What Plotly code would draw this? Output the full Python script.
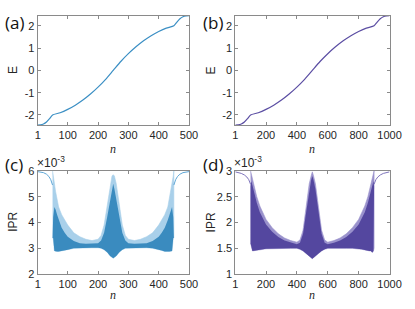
import plotly.graph_objects as go

# ---------------- data ----------------
# (a) energy spectrum, N = 500
a_n = [1, 10, 20, 30, 40, 50, 75, 100, 125, 150, 175, 200, 225, 250,
       275, 300, 325, 350, 375, 400, 425, 450, 460, 470, 480, 490, 500]
a_E = [-2.46, -2.45, -2.41, -2.32, -2.17, -2.00, -1.90, -1.75, -1.56, -1.33, -1.06, -0.75, -0.40, 0.00,
       0.40, 0.75, 1.06, 1.33, 1.56, 1.75, 1.90, 2.00, 2.17, 2.32, 2.41, 2.45, 2.46]
# (b) energy spectrum, N = 1000
b_n = [1, 20, 40, 60, 80, 100, 150, 200, 250, 300, 350, 400, 450, 500,
       550, 600, 650, 700, 750, 800, 850, 900, 920, 940, 960, 980, 1000]
b_E = [-2.46, -2.45, -2.41, -2.32, -2.17, -2.00, -1.90, -1.75, -1.56, -1.33, -1.06, -0.75, -0.40, 0.00,
       0.40, 0.75, 1.06, 1.33, 1.56, 1.75, 1.90, 2.00, 2.17, 2.32, 2.41, 2.45, 2.46]

# (c) IPR (x 1e-3), N = 500 : edge states and the envelope of the dense band
c_edge_l_n = [1, 10, 20, 30, 38, 44, 48, 50]
c_edge_l_v = [5.97, 5.96, 5.93, 5.87, 5.78, 5.66, 5.55, 5.45]
c_edge_r_n = [450, 452, 456, 462, 470, 480, 490, 500]
c_edge_r_v = [5.45, 5.55, 5.66, 5.78, 5.87, 5.93, 5.96, 5.97]
c_n = [50, 52, 56, 60, 65, 70, 80, 90, 100, 120, 140, 160, 180, 200, 210, 220, 230, 240, 246, 250,
       254, 260, 270, 280, 290, 300, 320, 340, 360, 380, 400, 410, 420, 430, 435, 440, 444, 448, 450]
c_up = [6.0, 5.8, 5.5, 5.2, 4.9, 4.6, 4.3, 4.1, 3.9, 3.6, 3.45, 3.35, 3.3, 3.35, 3.5, 3.9, 4.7, 5.5, 5.8, 5.85,
        5.8, 5.5, 4.7, 3.9, 3.5, 3.35, 3.3, 3.35, 3.45, 3.6, 3.9, 4.1, 4.3, 4.6, 4.9, 5.2, 5.5, 5.8, 6.0]
c_core = [3.4, 4.2, 4.6, 4.5, 4.3, 4.1, 3.8, 3.6, 3.45, 3.28, 3.2, 3.18, 3.18, 3.2, 3.3, 3.6, 4.2, 4.9, 5.3, 5.5,
          5.3, 4.9, 4.2, 3.6, 3.3, 3.2, 3.18, 3.18, 3.2, 3.28, 3.45, 3.6, 3.8, 4.1, 4.3, 4.5, 4.6, 4.2, 3.4]
c_lo = [3.4, 3.4, 2.9, 2.88, 2.88, 2.88, 2.88, 2.92, 2.95, 3.0, 3.02, 3.02, 3.02, 3.02, 3.0, 2.95, 2.85, 2.7, 2.65, 2.62,
        2.65, 2.7, 2.85, 2.95, 3.0, 3.02, 3.02, 3.02, 3.02, 3.0, 2.95, 2.92, 2.88, 2.88, 2.88, 2.88, 2.9, 3.4, 3.4]

# (d) IPR (x 1e-3), N = 1000
d_edge_l_n = [1, 20, 40, 60, 76, 88, 96, 100]
d_edge_l_v = [2.98, 2.97, 2.95, 2.92, 2.88, 2.83, 2.78, 2.74]
d_edge_r_n = [900, 904, 912, 924, 940, 960, 980, 1000]
d_edge_r_v = [2.74, 2.78, 2.83, 2.88, 2.92, 2.95, 2.97, 2.98]
d_n = [100, 104, 112, 120, 130, 140, 160, 180, 200, 240, 280, 320, 360, 400, 420, 440, 460, 480, 492, 500,
       508, 520, 540, 560, 580, 600, 640, 680, 720, 760, 800, 820, 840, 860, 870, 880, 888, 896, 900]
d_up = [3.0, 2.95, 2.85, 2.75, 2.62, 2.5, 2.32, 2.18, 2.06, 1.9, 1.78, 1.7, 1.65, 1.62, 1.66, 1.85, 2.3, 2.75, 2.9, 2.98,
        2.9, 2.75, 2.3, 1.85, 1.66, 1.62, 1.65, 1.7, 1.78, 1.9, 2.06, 2.18, 2.32, 2.5, 2.62, 2.75, 2.85, 2.95, 3.0]
d_core = [2.7, 2.8, 2.72, 2.62, 2.5, 2.38, 2.2, 2.07, 1.96, 1.82, 1.72, 1.65, 1.61, 1.58, 1.61, 1.78, 2.2, 2.65, 2.82, 2.9,
          2.82, 2.65, 2.2, 1.78, 1.61, 1.58, 1.61, 1.65, 1.72, 1.82, 1.96, 2.07, 2.2, 2.38, 2.5, 2.62, 2.72, 2.8, 2.7]
d_lo = [1.6, 1.55, 1.45, 1.45, 1.45, 1.46, 1.47, 1.48, 1.49, 1.5, 1.5, 1.5, 1.5, 1.5, 1.48, 1.45, 1.4, 1.35, 1.32, 1.3,
        1.32, 1.35, 1.4, 1.45, 1.48, 1.5, 1.5, 1.5, 1.5, 1.5, 1.49, 1.48, 1.47, 1.46, 1.45, 1.45, 1.42, 1.45, 1.5]

# tick values / labels
a_xt = [1, 100, 200, 300, 400, 500]
b_xt = [1, 200, 400, 600, 800, 1000]
E_yt = [-2, -1, 0, 1, 2]
E_yl = ["-2", "-1", "0", "1", "2"]
c_yt = [2, 3, 4, 5, 6]
d_yt = [1, 1.5, 2, 2.5, 3]
panel_labels = ["(a)", "(b)", "(c)", "(d)"]

# ---------------- styling ----------------
blue = "#3b8fc4"
purple = "#5b4ea3"
W, H = 415, 309
fontf = "Liberation Sans"

def px(x):
    return x / W

def py(y):
    return 1 - y / H

dom = {
    1: ([px(36), px(193)], [py(124), py(10)]),
    2: ([px(241), px(401)], [py(124), py(10)]),
    3: ([px(36), px(193)], [py(279), py(171.5)]),
    4: ([px(241), px(401)], [py(279), py(171.5)]),
}

fig = go.Figure()

fig.add_trace(go.Scatter(x=a_n, y=a_E, mode="lines", line=dict(color=blue, width=1.2, shape="spline", smoothing=0.6),
                         xaxis="x", yaxis="y", showlegend=False, hoverinfo="skip"))
fig.add_trace(go.Scatter(x=b_n, y=b_E, mode="lines", line=dict(color=purple, width=1.2, shape="spline", smoothing=0.6),
                         xaxis="x2", yaxis="y2", showlegend=False, hoverinfo="skip"))

def band(n, up, core, lo, light, dark, edge, el_n, el_v, er_n, er_v, xa, ya):
    fig.add_trace(go.Scatter(x=n + n[::-1], y=up + lo[::-1], fill="toself", mode="lines",
                             line=dict(width=0.6, color=light), fillcolor=light,
                             xaxis=xa, yaxis=ya, showlegend=False, hoverinfo="skip"))
    fig.add_trace(go.Scatter(x=n + n[::-1], y=core + lo[::-1], fill="toself", mode="lines",
                             line=dict(width=0), fillcolor=dark,
                             xaxis=xa, yaxis=ya, showlegend=False, hoverinfo="skip"))
    for xs, ys in ((el_n, el_v), (er_n, er_v)):
        fig.add_trace(go.Scatter(x=xs, y=ys, mode="lines", line=dict(color=edge, width=1),
                                 xaxis=xa, yaxis=ya, showlegend=False, hoverinfo="skip"))

band(c_n, c_up, c_core, c_lo, "#a9d0ea", "#3a8bbf", "#5fa7d6",
     c_edge_l_n, c_edge_l_v, c_edge_r_n, c_edge_r_v, "x3", "y3")
band(d_n, d_up, d_core, d_lo, "#9a92cc", "#54479f", "#7e74bb",
     d_edge_l_n, d_edge_l_v, d_edge_r_n, d_edge_r_v, "x4", "y4")

axcommon = dict(showgrid=False, zeroline=False, showline=True, mirror="ticks",
                linecolor="#8a8a8a", linewidth=1, ticks="inside", ticklen=3,
                tickcolor="#8a8a8a", tickwidth=1,
                tickfont=dict(family=fontf, size=11, color="#262626"))

layout = dict(width=W, height=H, margin=dict(l=0, r=0, t=0, b=0),
              paper_bgcolor="white", plot_bgcolor="white", showlegend=False)

xranges = {1: [1, 500], 2: [1, 1000], 3: [1, 500], 4: [1, 1000]}
xticks = {1: a_xt, 2: b_xt, 3: a_xt, 4: b_xt}
yranges = {1: [-2.46, 2.46], 2: [-2.46, 2.46], 3: [2, 6], 4: [1, 3]}
yticks = {1: (E_yt, E_yl), 2: (E_yt, E_yl),
          3: (c_yt, [str(v) for v in c_yt]), 4: (d_yt, [str(v) for v in d_yt])}

for i in range(1, 5):
    s = "" if i == 1 else str(i)
    layout["xaxis" + s] = dict(axcommon, domain=dom[i][0], range=xranges[i],
                               tickvals=xticks[i], ticktext=[str(v) for v in xticks[i]],
                               anchor="y" + s)
    layout["yaxis" + s] = dict(axcommon, domain=dom[i][1], range=yranges[i],
                               tickvals=yticks[i][0], ticktext=yticks[i][1],
                               anchor="x" + s)

fig.update_layout(**layout)

ann = []
for lab, (x, y) in zip(panel_labels, [(0, 17), (205, 17), (0, 165), (205, 165)]):
    ann.append(dict(text=lab, x=px(x), y=py(y), xref="paper", yref="paper",
                    xanchor="left", yanchor="middle", showarrow=False,
                    font=dict(family="Open Sans", size=17, color="#111")))
for lab, (x, y) in zip(["E", "E", "IPR", "IPR"], [(11, 67), (216, 67), (11, 225), (216, 225)]):
    ann.append(dict(text=lab, x=px(x), y=py(y), xref="paper", yref="paper",
                    xanchor="center", yanchor="middle", showarrow=False, textangle=-90,
                    font=dict(family=fontf, size=12, color="#262626")))
for (x, y) in [(114, 149), (321, 149), (114, 301), (321, 301)]:
    ann.append(dict(text="<i>n</i>", x=px(x), y=py(y), xref="paper", yref="paper",
                    xanchor="center", yanchor="middle", showarrow=False,
                    font=dict(family="Liberation Serif", size=12, color="#262626")))
for x in [33, 238]:
    ann.append(dict(text="×10<sup>-3</sup>", x=px(x), y=py(162), xref="paper", yref="paper",
                    xanchor="left", yanchor="middle", showarrow=False,
                    font=dict(family=fontf, size=12, color="#262626")))
fig.update_layout(annotations=ann)

fig.write_html("out.html", config={"displayModeBar": False},
               post_script="document.body.style.margin='0';document.body.style.overflow='hidden';")
